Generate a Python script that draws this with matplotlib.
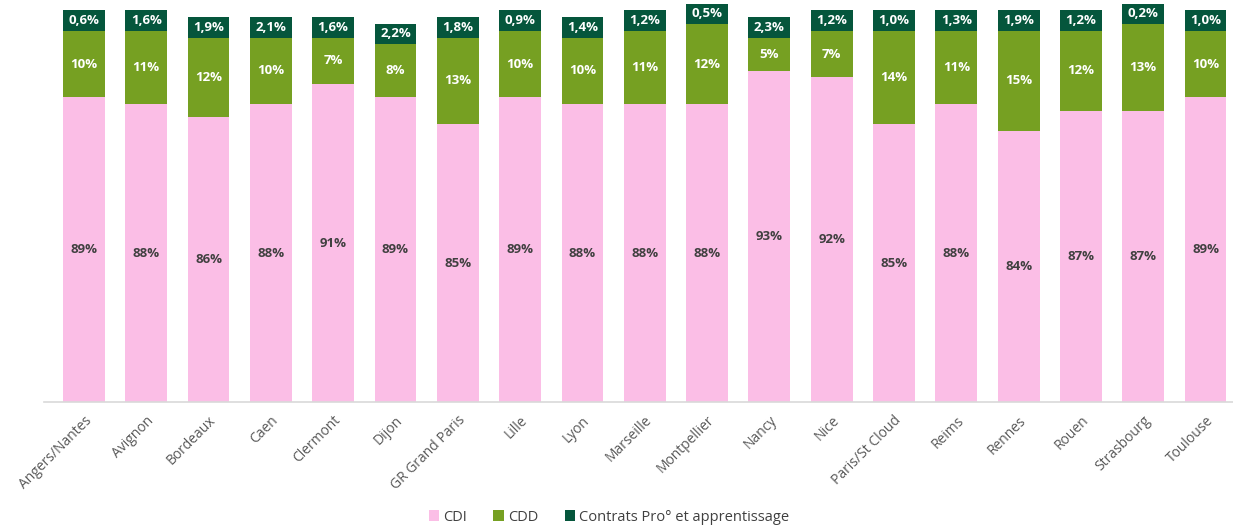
import numpy as np
import matplotlib.pyplot as plt

plt.rcParams['font.family'] = ['Open Sans', 'DejaVu Sans']

villes = ['Angers/Nantes', 'Avignon', 'Bordeaux', 'Caen', 'Clermont', 'Dijon',
          'GR Grand Paris', 'Lille', 'Lyon', 'Marseille', 'Montpellier', 'Nancy',
          'Nice', 'Paris/St Cloud', 'Reims', 'Rennes', 'Rouen', 'Strasbourg', 'Toulouse']
cdi = np.array([89, 88, 86, 88, 91, 89, 85, 89, 88, 88, 88, 93, 92, 85, 88, 84, 87, 87, 89])
cdd = np.array([10, 11, 12, 10, 7, 8, 13, 10, 10, 11, 12, 5, 7, 14, 11, 15, 12, 13, 10])
pro = np.array([0.6, 1.6, 1.9, 2.1, 1.6, 2.2, 1.8, 0.9, 1.4, 1.2, 0.5, 2.3, 1.2, 1.0, 1.3, 1.9, 1.2, 0.2, 1.0])

c_cdi = '#FBBEE6'
c_cdd = '#76A022'
c_pro = '#05563C'

# the thin segment is drawn with a minimum height so its label stays readable
pro_h = np.maximum(pro, 3.1)
y0 = 43.2

fig = plt.figure(figsize=(12.33, 5.26), dpi=100)
ax = fig.add_axes([44/1233, 124/526, 1189/1233, 402/526])

x = np.arange(len(villes))
w = 0.67
ax.bar(x, cdi - y0, w, bottom=y0, color=c_cdi, label='CDI')
ax.bar(x, cdd, w, bottom=cdi, color=c_cdd, label='CDD')
ax.bar(x, pro_h, w, bottom=cdi + cdd, color=c_pro, label='Contrats Pro° et apprentissage',
       clip_on=False)

for i in range(len(villes)):
    ax.text(x[i], (y0 + cdi[i]) / 2, '%d%%' % cdi[i], ha='center', va='center',
            fontsize=9.5, fontweight='bold', color='#404040')
    ax.text(x[i], cdi[i] + cdd[i] / 2, '%d%%' % cdd[i], ha='center', va='center',
            fontsize=9.5, fontweight='bold', color='white')
    ax.text(x[i], cdi[i] + cdd[i] + pro_h[i] / 2, ('%.1f%%' % pro[i]).replace('.', ','),
            ha='center', va='center', fontsize=9.5, fontweight='bold', color='white')

ax.set_xlim(-0.64, 18.44)
ax.set_ylim(y0, y0 + 402 / 6.65)
ax.set_yticks([])
for s in ['top', 'right', 'left']:
    ax.spines[s].set_visible(False)
ax.spines['bottom'].set_color('#D9D9D9')
ax.spines['bottom'].set_linewidth(1.2)
ax.set_xticks(x)
ax.set_xticklabels(villes, rotation=45, ha='right', rotation_mode='anchor',
                   fontsize=10, color='#595959')
ax.tick_params(axis='x', length=0, pad=8)

fig.legend(loc='center', bbox_to_anchor=(0.494, 0.017), ncol=3, frameon=False,
           fontsize=10.5, handlelength=0.7, handleheight=0.7, handletextpad=0.3,
           columnspacing=1.8, labelcolor='#404040')

fig.savefig('out.png', dpi=100)
